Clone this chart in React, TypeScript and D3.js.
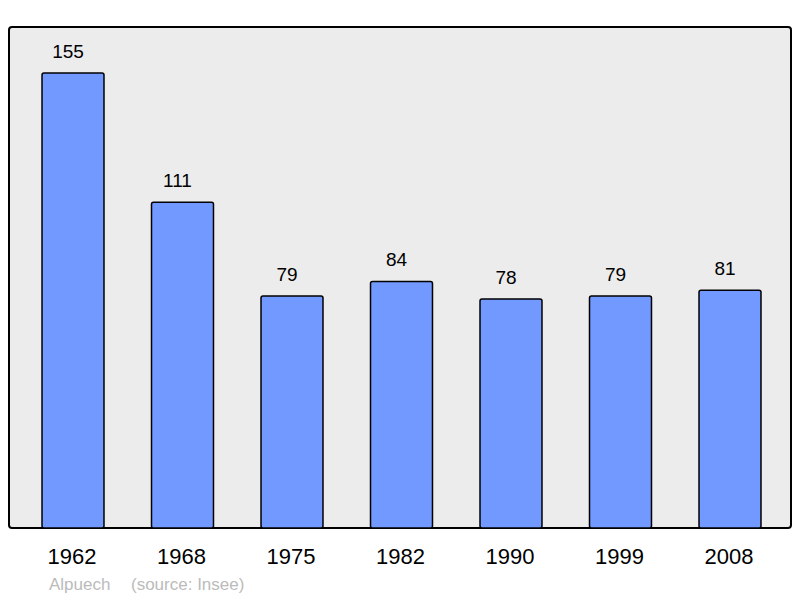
import React from 'react';
import * as d3 from 'd3';

// Population by census year
const years = ['1962', '1968', '1975', '1982', '1990', '1999', '2008'];
const population = [155, 111, 79, 84, 78, 79, 81];

const commune = 'Alpuech';
const source = '(source: Insee)';

const width = 800;
const height = 598;
const panel = { x: 9, y: 27, w: 782, h: 501 };

const App = () => {
  const xScale = d3
    .scaleBand<string>()
    .domain(years)
    .range([18.25, 784.75])
    .paddingInner(0.434)
    .paddingOuter(0.217);

  const baseline = panel.y + panel.h;
  // 155 -> bar top at y = 73
  const yScale = d3.scaleLinear().domain([0, 155]).range([baseline, 73]);

  const font = '"Liberation Sans", Arial, sans-serif';

  return (
    <svg
      width={width}
      height={height}
      style={{ position: 'absolute', left: 0, top: 0 }}
      fontFamily={font}
    >
      <rect x={0} y={0} width={width} height={height} fill="#fff" />
      {/* plot panel */}
      <rect
        x={panel.x}
        y={panel.y}
        width={panel.w}
        height={panel.h}
        rx={3}
        fill="#ececec"
        stroke="#000"
        strokeWidth={2}
      />

      {/* bars */}
      {years.map((yr, i) => {
        const x = xScale(yr) as number;
        const y = yScale(population[i]);
        const cx = x + xScale.bandwidth() / 2;
        return (
          <g key={yr}>
            <rect
              x={x}
              y={y}
              width={xScale.bandwidth()}
              height={baseline - y}
              rx={2}
              fill="#7199ff"
              stroke="#000"
              strokeWidth={1.5}
            />
            {/* value labels sit slightly left of the bar centre */}
            <text x={cx - 5} y={y - 15} textAnchor="middle" fontSize={19} fill="#000">
              {population[i]}
            </text>
            <text x={cx - 1} y={564} textAnchor="middle" fontSize={22} fill="#000">
              {yr}
            </text>
          </g>
        );
      })}

      {/* footer */}
      <text x={49} y={590} fontSize={17} fill="#bbb">
        {commune}
      </text>
      <text x={131} y={590} fontSize={17} fill="#bbb">
        {source}
      </text>
    </svg>
  );
};

export default App;
